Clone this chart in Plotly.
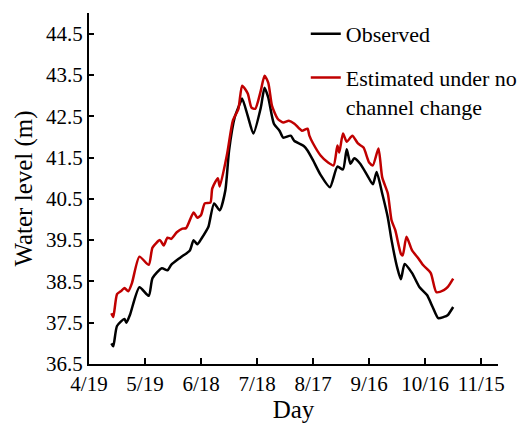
import pandas as pd
import plotly.graph_objs as go

# days counted from 4/19
start = pd.Timestamp("2021-04-19")

obs_day = [12, 13, 15, 19, 20, 22, 27, 32, 34, 39, 42, 44, 49, 54, 56, 58, 60, 63, 64, 67, 70, 73,
           75, 78, 81, 82, 85, 88, 92, 94, 96, 99, 102, 104, 108, 110, 115, 117, 120, 124, 129,
           133, 136, 138, 140, 142, 145, 149, 152, 154, 157, 160, 162, 165, 167, 169, 173, 177,
           181, 184, 187, 190, 192, 195]
obs_val = [37.00, 36.93, 37.42, 37.59, 37.50, 37.70, 38.36, 38.15, 38.58, 38.82, 38.77, 38.90,
           39.08, 39.25, 39.50, 39.40, 39.52, 39.74, 39.83, 40.39, 40.22, 40.70, 41.67, 42.47,
           42.83, 42.93, 42.51, 42.08, 42.71, 43.19, 42.95, 42.32, 42.15, 41.98, 42.03, 41.90,
           41.78, 41.67, 41.43, 41.08, 40.78, 41.28, 41.21, 41.70, 41.35, 41.48, 41.36, 41.07,
           40.85, 41.15, 40.63, 40.05, 39.50, 38.84, 38.55, 38.92, 38.70, 38.36, 38.17, 37.88,
           37.61, 37.64, 37.68, 37.88]

est_day = [12, 13, 15, 17, 19, 21, 23, 27, 32, 34, 38, 40, 42, 44, 47, 50, 52, 56, 58, 60, 62, 65,
           66, 69, 70, 74, 77, 80, 82, 85, 87, 89, 92, 94, 96, 98, 101, 104, 107, 110, 114, 117,
           118, 120, 124, 128, 131, 133, 134, 136, 138, 141, 144, 147, 150, 152, 155, 157, 160,
           162, 164, 167, 168, 170, 173, 176, 179, 183, 186, 190, 192, 195]
est_val = [37.73, 37.64, 38.19, 38.26, 38.34, 38.26, 38.46, 39.10, 38.90, 39.32, 39.50, 39.37,
           39.56, 39.53, 39.69, 39.78, 39.79, 40.17, 40.04, 40.11, 40.39, 40.41, 40.75, 41.00,
           40.80, 41.60, 42.39, 42.68, 43.24, 43.05, 42.71, 42.68, 43.12, 43.48, 43.31, 42.75,
           42.44, 42.35, 42.39, 42.32, 42.15, 42.20, 42.03, 41.84, 41.55, 41.38, 41.31, 41.79,
           41.62, 42.08, 41.88, 42.03, 41.84, 41.74, 41.38, 41.31, 41.72, 41.02, 40.63, 39.98,
           39.74, 39.17, 39.13, 39.58, 39.25, 39.08, 38.89, 38.70, 38.24, 38.29, 38.36, 38.57]

tick_day = [0, 30, 60, 90, 120, 150, 180, 210]
tick_text = ["4/19", "5/19", "6/18", "7/18", "8/17", "9/16", "10/16", "11/15"]
y_ticks = [36.5, 37.5, 38.5, 39.5, 40.5, 41.5, 42.5, 43.5, 44.5]


def to_dates(days):
    return [start + pd.Timedelta(days=d) for d in days]


font = "Liberation Serif, Times New Roman, serif"

fig = go.Figure()
fig.add_trace(go.Scatter(x=to_dates(obs_day), y=obs_val, mode="lines", name="Observed",
                         line=dict(color="black", width=2.5, shape="spline", smoothing=0.6),
                         legendgroup="a"))
fig.add_trace(go.Scatter(x=to_dates(est_day), y=est_val, mode="lines",
                         name="Estimated under no<br>channel change",
                         line=dict(color="#C00000", width=2.5, shape="spline", smoothing=0.6),
                         legendgroup="b"))

fig.update_layout(
    width=524, height=423,
    margin=dict(l=89, r=26, t=13, b=59, autoexpand=False),
    plot_bgcolor="white", paper_bgcolor="white",
    font=dict(family=font, size=21, color="black"),
    showlegend=True,
    legend=dict(x=0.53, y=1.0, xanchor="left", yanchor="top", bgcolor="rgba(0,0,0,0)",
                font=dict(size=22), valign="top", tracegroupgap=12, itemwidth=30),
    xaxis=dict(range=[start, start + pd.Timedelta(days=219)],
               tickvals=to_dates(tick_day), ticktext=tick_text, automargin=False,
               ticks="inside", ticklen=6, tickwidth=1.5, tickcolor="black",
               showline=True, linecolor="black", linewidth=2, showgrid=False, zeroline=False,
               title=dict(text="Day", standoff=2)),
    yaxis=dict(range=[36.5, 45.0], tickvals=y_ticks, ticktext=[f"{v:.1f}" for v in y_ticks],
               automargin=False,
               ticks="inside", ticklen=5, tickwidth=1.5, tickcolor="black",
               showline=True, linecolor="black", linewidth=2, showgrid=False, zeroline=False,
               title=dict(text="Water level (m)", standoff=6)),
)

# drop the default page margin so the figure sits at the top-left corner
fig.write_html("out.html", config={"displayModeBar": False},
               post_script="document.body.style.margin='0px';")
